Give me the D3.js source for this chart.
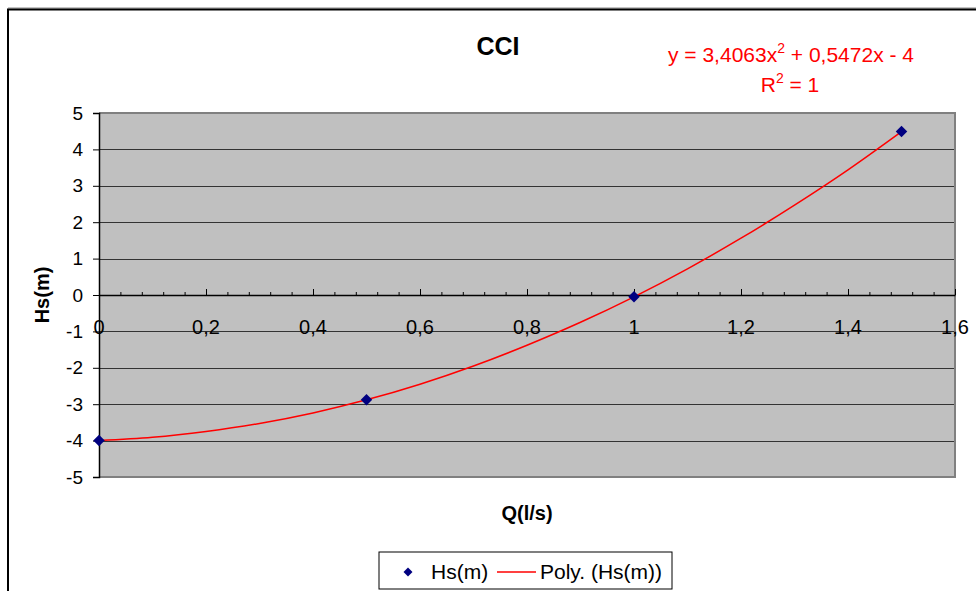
<!DOCTYPE html>
<html lang="en">
  <head>
    <meta charset='utf-8'>
    <script src='https://d3js.org/d3.v7.min.js'></script>
    <title>CCI</title>
    <style>
      body {
        margin: 0px;
        background: #fff;
      }
      .tick-label {
        fill: #000;
        font-size: 20px;
        font-family: 'Liberation Sans', Arial, sans-serif;
      }
      .axis-label {
        fill: #000;
        font-size: 20px;
        font-weight: bold;
        font-family: 'Liberation Sans', Arial, sans-serif;
      }
      .trend-text {
        fill: #ff0000;
        font-size: 21px;
        font-family: 'Liberation Sans', Arial, sans-serif;
      }
    </style>
  </head>
  <body>
    <svg id='chart' width='976' height='591'></svg>
    <script>

      // measured points
      const xData = [0, 0.5, 1, 1.5];
      const yData = [-4, -2.88, -0.05, 4.49];

      // trendline
      const trendX = [0, 0.1, 0.2, 0.3, 0.4, 0.5, 0.6, 0.7, 0.8, 0.9, 1.0, 1.1, 1.2, 1.3, 1.4, 1.5];
      const trendY = [-4, -3.91, -3.75, -3.53, -3.24, -2.88, -2.45, -1.95, -1.38, -0.75, -0.05, 0.72, 1.56, 2.47, 3.44, 4.49];

      const xTicks = [0, 0.2, 0.4, 0.6, 0.8, 1, 1.2, 1.4, 1.6];
      const yTicks = [5, 4, 3, 2, 1, 0, -1, -2, -3, -4, -5];

      const title = 'CCI';
      const xLabel = 'Q(l/s)';
      const yLabel = 'Hs(m)';
      const seriesName = 'Hs(m)';
      const trendName = 'Poly. (Hs(m))';

      const plot = { left: 99, right: 955, top: 113, bottom: 477 };
      const fmt = d => String(d).replace('.', ',');

      const svg = d3.select('#chart');

      // chart area border (Excel style with shadow)
      svg.append('line')
        .attr('x1', 8).attr('x2', 976).attr('y1', 8).attr('y2', 8)
        .attr('stroke', '#888').attr('stroke-width', 1);
      svg.append('path')
        .attr('d', 'M8,591 L8,9.5 L976,9.5')
        .attr('fill', 'none').attr('stroke', '#000').attr('stroke-width', 2);

      const xScale = d3.scaleLinear().domain([0, 1.6]).range([plot.left, plot.right]);
      const yScale = d3.scaleLinear().domain([-5, 5]).range([plot.bottom, plot.top]);

      // plot area
      svg.append('rect')
        .attr('x', plot.left).attr('y', plot.top)
        .attr('width', plot.right - plot.left).attr('height', plot.bottom - plot.top)
        .attr('fill', '#c0c0c0');

      // gridlines
      svg.append('g').selectAll('line')
        .data(yTicks.filter(d => d !== 5 && d !== -5))
        .enter().append('line')
        .attr('x1', plot.left).attr('x2', plot.right)
        .attr('y1', d => Math.round(yScale(d)) + 0.5)
        .attr('y2', d => Math.round(yScale(d)) + 0.5)
        .attr('stroke', '#333').attr('stroke-width', 1);

      // plot border (gray)
      svg.append('path')
        .attr('d', `M${plot.left},${plot.top} L${plot.right},${plot.top} L${plot.right},${plot.bottom} L${plot.left},${plot.bottom}`)
        .attr('fill', 'none').attr('stroke', '#808080').attr('stroke-width', 2);

      // y axis
      const yAxis = d3.axisLeft(yScale)
        .tickValues(yTicks)
        .tickSize(6)
        .tickPadding(10)
        .tickFormat(d => d);
      const yAxisG = svg.append('g')
        .attr('transform', `translate(${plot.left},0)`)
        .call(yAxis);
      yAxisG.select('.domain').attr('stroke', '#000').attr('stroke-width', 1.5);
      yAxisG.selectAll('.tick text').attr('class', 'tick-label')
        .attr('font-size', null).attr('font-family', null)
        .style('font-size', '19px');

      // x axis at y = 0
      const minorTicks = d3.range(0, 41).map(i => i * 0.04);
      const xAxisMinor = d3.axisTop(xScale)
        .tickValues(minorTicks)
        .tickSize(3)
        .tickFormat('');
      const x0 = yScale(0);
      const xAxisMinorG = svg.append('g')
        .attr('transform', `translate(0,${x0})`)
        .call(xAxisMinor);
      xAxisMinorG.select('.domain').remove();

      const xAxis = d3.axisTop(xScale)
        .tickValues(xTicks)
        .tickSize(6)
        .tickSizeOuter(0)
        .tickFormat('');
      const xAxisG = svg.append('g')
        .attr('transform', `translate(0,${x0})`)
        .call(xAxis);
      xAxisG.select('.domain').attr('stroke', '#000').attr('stroke-width', 1.5);

      svg.append('g').selectAll('text')
        .data(xTicks)
        .enter().append('text')
        .attr('class', 'tick-label')
        .attr('x', d => xScale(d))
        .attr('y', x0 + 39)
        .attr('text-anchor', 'middle')
        .text(fmt);

      // trendline
      const line = d3.line()
        .x((d, i) => xScale(trendX[i]))
        .y(d => yScale(d))
        .curve(d3.curveMonotoneX);
      svg.append('path')
        .datum(trendY)
        .attr('d', line)
        .attr('fill', 'none')
        .attr('stroke', '#ff0000')
        .attr('stroke-width', 1.5);

      // markers (Excel-like diamonds)
      const diamond = d3.symbol().type(d3.symbolSquare).size(66);
      svg.append('g').selectAll('path')
        .data(xData)
        .enter().append('path')
        .attr('d', diamond)
        .attr('transform', (d, i) => `translate(${xScale(d)},${yScale(yData[i])}) rotate(45)`)
        .attr('fill', '#000080');

      // titles
      svg.append('text')
        .attr('x', 498).attr('y', 55)
        .attr('text-anchor', 'middle')
        .style('font', 'bold 25px "Liberation Sans", Arial, sans-serif')
        .text(title);

      svg.append('text')
        .attr('class', 'axis-label')
        .attr('x', 527).attr('y', 520)
        .attr('text-anchor', 'middle')
        .text(xLabel);

      svg.append('text')
        .attr('class', 'axis-label')
        .attr('transform', 'translate(49,295) rotate(-90)')
        .attr('text-anchor', 'middle')
        .text(yLabel);

      // trendline equation
      const eq = svg.append('text')
        .attr('class', 'trend-text')
        .attr('x', 791).attr('y', 62)
        .attr('text-anchor', 'middle');
      eq.append('tspan').text('y = 3,4063x');
      eq.append('tspan').attr('dy', -9).style('font-size', '14px').text('2');
      eq.append('tspan').attr('dy', 9).text(' + 0,5472x - 4');

      const r2 = svg.append('text')
        .attr('class', 'trend-text')
        .attr('x', 790).attr('y', 92)
        .attr('text-anchor', 'middle');
      r2.append('tspan').text('R');
      r2.append('tspan').attr('dy', -9).style('font-size', '14px').text('2');
      r2.append('tspan').attr('dy', 9).text(' = 1');

      // legend
      const legend = svg.append('g').attr('transform', 'translate(379,552)');
      legend.append('rect')
        .attr('x', 0).attr('y', 0).attr('width', 293).attr('height', 37)
        .attr('fill', '#fff').attr('stroke', '#000').attr('stroke-width', 1);
      legend.append('path')
        .attr('d', d3.symbol().type(d3.symbolSquare).size(40))
        .attr('transform', 'translate(29,20) rotate(45)')
        .attr('fill', '#000080');
      legend.append('text')
        .attr('class', 'tick-label')
        .attr('x', 52).attr('y', 27)
        .style('font-size', '21px')
        .text(seriesName);
      legend.append('line')
        .attr('x1', 118).attr('x2', 157).attr('y1', 20).attr('y2', 20)
        .attr('stroke', '#ff0000').attr('stroke-width', 1.5);
      legend.append('text')
        .attr('class', 'tick-label')
        .attr('x', 161).attr('y', 27)
        .style('font-size', '21px')
        .text(trendName);

    </script>
  </body>
</html>
